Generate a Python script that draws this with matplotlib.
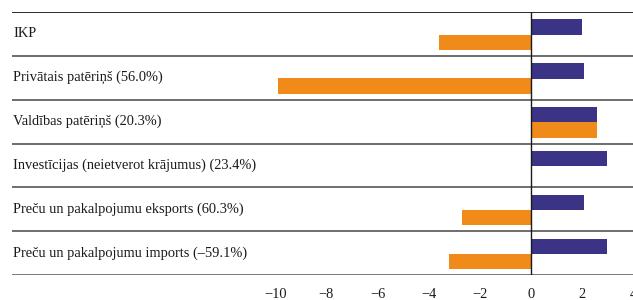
import matplotlib.pyplot as plt
import matplotlib.transforms as mtransforms

plt.rcParams['font.family'] = ['Liberation Serif', 'DejaVu Serif']

# Categories (top to bottom)
labels = [
    "IKP",
    "Privātais patēriņš (56.0%)",
    "Valdības patēriņš (20.3%)",
    "Investīcijas (neietverot krājumus) (23.4%)",
    "Preču un pakalpojumu eksports (60.3%)",
    "Preču un pakalpojumu imports (–59.1%)",
]

# Series values
blue_vals = [2.0, 2.1, 2.6, 3.0, 2.1, 3.0]
orange_vals = [-3.6, -9.9, 2.6, 0.0, -2.7, -3.2]

xticks = [-10, -8, -6, -4, -2, 0, 2, 4]

blue = "#3a3386"
orange = "#f08a18"

fig = plt.figure(figsize=(6.33, 3.0), dpi=100)
ax = fig.add_axes([12 / 633, 25 / 300, 621 / 633, 263 / 300])

rows = list(range(len(labels)))
bar_h = 0.35
ax.barh([r + 0.345 for r in rows], blue_vals, height=bar_h, color=blue, zorder=2)
ax.barh([r + 0.69 for r in rows], orange_vals, height=bar_h, color=orange, zorder=2)

ax.set_xlim(-20.3, 4.0)
ax.set_ylim(len(labels), 0)

# Row separators
ax.axhline(0, color="#1a1a1a", lw=1.3, zorder=3)
for r in rows[1:]:
    ax.axhline(r, color="#555555", lw=1.2, zorder=3)
ax.axhline(len(labels), color="#777777", lw=1.4, zorder=3)

# Zero line
ax.axvline(0, color="#1a1a1a", lw=1.0, zorder=3)

trans = mtransforms.blended_transform_factory(ax.transAxes, ax.transData)
for r, lab in zip(rows, labels):
    ax.text(0.002, r + 0.5, lab, transform=trans, ha="left", va="center",
            fontsize=10.4, color="#1a1a1a")

ax.set_xticks(xticks)
ax.set_xticklabels(["\u2212" + str(-t) if t < 0 else str(t) for t in xticks])
ax.tick_params(axis="x", length=0, labelsize=10.4, pad=9, colors="#1a1a1a")
ax.set_yticks([])
for s in ax.spines.values():
    s.set_visible(False)

fig.savefig("out.png", dpi=100)
